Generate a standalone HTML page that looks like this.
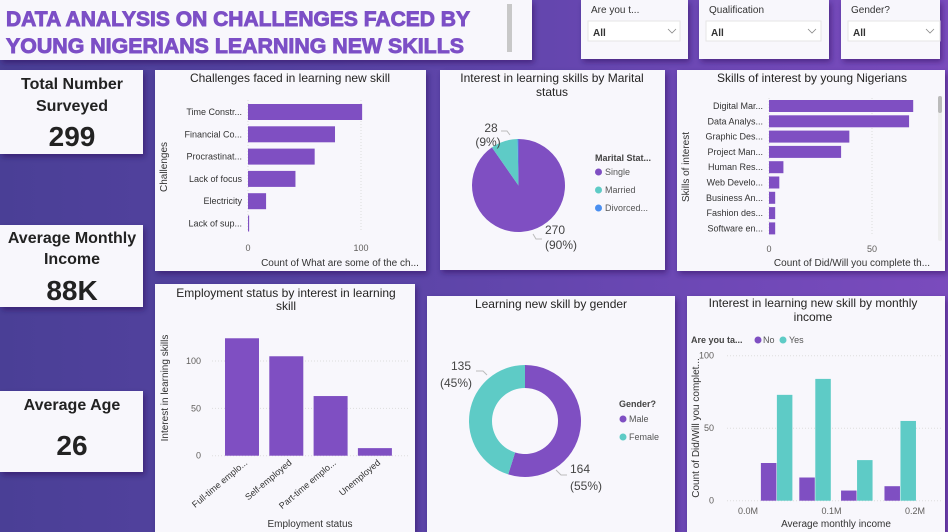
<!DOCTYPE html>
<html><head><meta charset="utf-8">
<style>
html,body{margin:0;padding:0;width:948px;height:532px;overflow:hidden;font-family:"Liberation Sans",sans-serif;}
body{background:linear-gradient(90deg,#4a3f96 0%,#5a44a6 40%,#6e48b6 75%,#7a4bbd 100%);}
svg text{font-family:"Liberation Sans",sans-serif;}
</style></head>
<body>
<svg id="dash" width="948" height="532" viewBox="0 0 948 532" xmlns="http://www.w3.org/2000/svg">
<defs>
<filter id="sh" x="-10%" y="-10%" width="130%" height="130%"><feDropShadow dx="2" dy="3" stdDeviation="3" flood-color="#20104a" flood-opacity="0.45"/></filter>
</defs>
<g>
<rect x="0" y="0" width="532" height="60" fill="#f8f7fc" filter="url(#sh)"/>
<rect x="507" y="4" width="5" height="48" fill="#c8c8c8"/>
<text x="6" y="26" font-size="21" font-weight="900" fill="#7c4fc6" stroke="#7c4fc6" stroke-width="0.9" textLength="464" lengthAdjust="spacingAndGlyphs">DATA ANALYSIS ON CHALLENGES FACED BY</text>
<text x="6" y="53" font-size="21" font-weight="900" fill="#7c4fc6" stroke="#7c4fc6" stroke-width="0.9" textLength="458" lengthAdjust="spacingAndGlyphs">YOUNG NIGERIANS LEARNING NEW SKILLS</text>
</g>
<g>
<rect x="581" y="0" width="107" height="59" fill="#f8f7fc" filter="url(#sh)"/>
<text x="591" y="13" font-size="10" fill="#333">Are you t...</text>
<rect x="588" y="21" width="92" height="20" fill="#fff" stroke="#e6e6e6"/>
<text x="593" y="36" font-size="10" font-weight="bold" fill="#333">All</text>
<path d="M668 29 l4 4 l4 -4" fill="none" stroke="#888" stroke-width="0.8"/>
</g>
<g>
<rect x="699" y="0" width="130" height="59" fill="#f8f7fc" filter="url(#sh)"/>
<text x="709" y="13" font-size="10" fill="#333">Qualification</text>
<rect x="706" y="21" width="115" height="20" fill="#fff" stroke="#e6e6e6"/>
<text x="711" y="36" font-size="10" font-weight="bold" fill="#333">All</text>
<path d="M808 29 l4 4 l4 -4" fill="none" stroke="#888" stroke-width="0.8"/>
</g>
<g>
<rect x="841" y="0" width="99" height="59" fill="#f8f7fc" filter="url(#sh)"/>
<text x="851" y="13" font-size="10" fill="#333">Gender?</text>
<rect x="848" y="21" width="92" height="20" fill="#fff" stroke="#e6e6e6"/>
<text x="853" y="36" font-size="10" font-weight="bold" fill="#333">All</text>
<path d="M926 29 l4 4 l4 -4" fill="none" stroke="#888" stroke-width="0.8"/>
</g>
<g>
<rect x="0" y="70" width="143" height="84" fill="#f8f7fc" filter="url(#sh)"/>
<text x="72" y="89" font-size="16" font-weight="bold" fill="#222" text-anchor="middle">Total Number</text>
<text x="72" y="111" font-size="16" font-weight="bold" fill="#222" text-anchor="middle">Surveyed</text>
<text x="72" y="146" font-size="28" font-weight="bold" fill="#222" text-anchor="middle">299</text>
</g>
<g>
<rect x="0" y="225" width="143" height="82" fill="#f8f7fc" filter="url(#sh)"/>
<text x="72" y="243" font-size="16" font-weight="bold" fill="#222" text-anchor="middle">Average Monthly</text>
<text x="72" y="264" font-size="16" font-weight="bold" fill="#222" text-anchor="middle">Income</text>
<text x="72" y="300" font-size="28" font-weight="bold" fill="#222" text-anchor="middle">88K</text>
</g>
<g>
<rect x="0" y="391" width="143" height="81" fill="#f8f7fc" filter="url(#sh)"/>
<text x="72" y="410" font-size="16" font-weight="bold" fill="#222" text-anchor="middle">Average Age</text>
<text x="72" y="455" font-size="28" font-weight="bold" fill="#222" text-anchor="middle">26</text>
</g>
<rect x="155" y="70" width="271" height="201" fill="#f8f7fc" filter="url(#sh)"/>
<rect x="440" y="70" width="225" height="200" fill="#f8f7fc" filter="url(#sh)"/>
<rect x="677" y="70" width="268" height="201" fill="#f8f7fc" filter="url(#sh)"/>
<rect x="155" y="284" width="260" height="248" fill="#f8f7fc" filter="url(#sh)"/>
<rect x="427" y="296" width="248" height="236" fill="#f8f7fc" filter="url(#sh)"/>
<rect x="687" y="296" width="258" height="236" fill="#f8f7fc" filter="url(#sh)"/>
<g id="charts"></g>
</svg>
<script>
const challengeCats = ["Time Constr...","Financial Co...","Procrastinat...","Lack of focus","Electricity","Lack of sup..."];
const challengeVals = [101,77,59,42,16,1];
const challengeTicks = [0,100];
const skillCats = ["Digital Mar...","Data Analys...","Graphic Des...","Project Man...","Human Res...","Web Develo...","Business An...","Fashion des...","Software en..."];
const skillVals = [70,68,39,35,7,5,3,3,3];
const skillTicks = [0,50];
const maritalCats = ["Single","Married","Divorced..."];
const maritalVals = [270,28,1];
const genderCats = ["Male","Female"];
const genderVals = [164,135];
const employCats = ["Full-time emplo...","Self-employed","Part-time emplo...","Unemployed"];
const employVals = [124,105,63,8];
const employTicks = [0,50,100];
const incomeBins = [0.034,0.08,0.13,0.182];
const incomeNo = [26,16,7,10];
const incomeYes = [73,84,28,55];
const incomeYTicks = [0,50,100];
const incomeXTicks = [0,0.1,0.2];
const incomeXLabels = ["0.0M","0.1M","0.2M"];

const NS="http://www.w3.org/2000/svg";
const root=document.getElementById('charts');
const PUR="#7f4fc2", TEAL="#5ecbc6", BLUE="#4a8ff0";
function el(tag,attrs,txt){const e=document.createElementNS(NS,tag);for(const k in attrs)e.setAttribute(k,attrs[k]);if(txt!==undefined)e.textContent=txt;root.appendChild(e);return e;}
function txt(x,y,s,size,fill,anchor,extra){const a={x:x,y:y,'font-size':size,fill:fill||'#333','text-anchor':anchor||'start'};if(extra)Object.assign(a,extra);return el('text',a,s);}

(function(){
  const x0=248, px=1.13, y0=112, step=22.3, bh=16;
  const sx=v=>x0+v*px;
  let t=txt(290,82,"Challenges faced in learning new skill",12,'#252423','middle');
  
  
  challengeTicks.forEach(v=>{
    let g=el('line',{x1:sx(v),x2:sx(v),y1:100,y2:232,stroke:'#ddd','stroke-dasharray':'1,2'});
    
    
    let l=txt(sx(v),251,String(v),9,'#605e5c','middle');
    
    
  });
  challengeCats.forEach((c,i)=>{
    const cy=y0+i*step;
    let r=el('rect',{x:x0,y:cy-bh/2,width:Math.max(1,challengeVals[i]*px),height:bh,fill:PUR});
    
    
    let l=txt(242,cy+3,c,9,'#333','end');
    
    
  });
  let xa=txt(340,266,"Count of What are some of the ch...",10,'#333','middle');
  
  
  let ya=txt(0,0,"Challenges",10,'#333','middle',{transform:'translate(167,167) rotate(-90)'});
  
  
})();

(function(){
  const x0=769, px=2.06, y0=106, step=15.3, bh=12;
  const sx=v=>x0+v*px;
  let t=txt(812,82,"Skills of interest by young Nigerians",12,'#252423','middle');
  
  
  skillTicks.forEach(v=>{
    let g=el('line',{x1:sx(v),x2:sx(v),y1:98,y2:236,stroke:'#ddd','stroke-dasharray':'1,2'});
    
    
    let l=txt(sx(v),252,String(v),9,'#605e5c','middle');
    
    
  });
  skillCats.forEach((c,i)=>{
    const cy=y0+i*step;
    let r=el('rect',{x:x0,y:cy-bh/2,width:skillVals[i]*px,height:bh,fill:PUR});
    
    
    let l=txt(763,cy+3,c,9,'#333','end');
    
    
  });
  let sb=el('rect',{x:938,y:96,width:4,height:145,fill:'#eee',rx:2});
  
  
  let sb2=el('rect',{x:938,y:96,width:4,height:17,fill:'#bbb',rx:2});
  
  
  let xa=txt(852,266,"Count of Did/Will you complete th...",10,'#333','middle');
  
  
  let ya=txt(0,0,"Skills of interest",10,'#333','middle',{transform:'translate(689,167) rotate(-90)'});
  
  
})();

function arcPath(cx,cy,ro,ri,a0,a1){
  const p=(r,a)=>[cx+r*Math.sin(a),cy-r*Math.cos(a)];
  const large=(a1-a0)>Math.PI?1:0;
  const [x1,y1]=p(ro,a0),[x2,y2]=p(ro,a1);
  if(ri<=0) return `M${cx},${cy} L${x1},${y1} A${ro},${ro} 0 ${large} 1 ${x2},${y2} Z`;
  const [x3,y3]=p(ri,a1),[x4,y4]=p(ri,a0);
  return `M${x1},${y1} A${ro},${ro} 0 ${large} 1 ${x2},${y2} L${x3},${y3} A${ri},${ri} 0 ${large} 0 ${x4},${y4} Z`;
}

(function(){
  let t=txt(552,82,"Interest in learning skills by Marital",12,'#252423','middle');
  
  
  let t2=txt(552,96,"status",12,'#252423','middle');
  
  
  const cx=518.5, cy=185.5, r=46.5, cols=[PUR,TEAL,BLUE];
  const tot=maritalVals.reduce((a,b)=>a+b,0);
  let a=0;
  maritalVals.forEach((v,i)=>{
    const a1=a+v/tot*2*Math.PI;
    let p=el('path',{d:arcPath(cx,cy,r,0,a,a1),fill:cols[i]});
    
    
    a=a1;
  });
  el('path',{d:'M533,234 l3,5 h6',fill:'none',stroke:'#bbb'});
  el('path',{d:'M510,135 l-3,-4 h-6',fill:'none',stroke:'#bbb'});
  const pct=v=>Math.round(v/tot*100)+'%';
  let l1=txt(545,234,String(maritalVals[0]),12,'#444','start');
  
  
  let l1b=txt(545,249,'('+pct(maritalVals[0])+')',12,'#444','start');
  
  
  let l2=txt(491,132,String(maritalVals[1]),12,'#444','middle');
  
  
  let l2b=txt(488,146,'('+pct(maritalVals[1])+')',12,'#444','middle');
  
  
  let lt=txt(595,161,"Marital Stat...",9,'#444','start',{'font-weight':'bold'});
  
  
  maritalCats.forEach((c,i)=>{
    const y=175+i*18;
    let d=el('circle',{cx:598.5,cy:y-3,r:3.5,fill:cols[i]});
    
    
    let l=txt(605,y,c,9,'#555','start');
    
    
  });
})();

(function(){
  let t=txt(551,308,"Learning new skill by gender",12,'#252423','middle');
  
  
  const cx=525, cy=421, ro=56, ri=33, cols=[PUR,TEAL];
  const tot=genderVals.reduce((a,b)=>a+b,0);
  let a=0;
  genderVals.forEach((v,i)=>{
    const a1=a+v/tot*2*Math.PI;
    let p=el('path',{d:arcPath(cx,cy,ro,ri,a,a1),fill:cols[i]});
    
    
    a=a1;
  });
  el('path',{d:'M556,470 l5,5 h6',fill:'none',stroke:'#bbb'});
  el('path',{d:'M487,375 l-4,-4 h-7',fill:'none',stroke:'#bbb'});
  const pct=v=>Math.round(v/tot*100)+'%';
  let l1=txt(570,473,String(genderVals[0]),12,'#444','start');
  
  
  let l1b=txt(570,490,'('+pct(genderVals[0])+')',12,'#444','start');
  
  
  let l2=txt(461,370,String(genderVals[1]),12,'#444','middle');
  
  
  let l2b=txt(456,387,'('+pct(genderVals[1])+')',12,'#444','middle');
  
  
  let lt=txt(619,407,"Gender?",9,'#444','start',{'font-weight':'bold'});
  
  
  genderCats.forEach((c,i)=>{
    const y=422+i*18;
    let d=el('circle',{cx:623,cy:y-3,r:3.5,fill:cols[i]});
    
    
    let l=txt(629,y,c,9,'#555','start');
    
    
  });
})();

(function(){
  let t=txt(286,297,"Employment status by interest in learning",12,'#252423','middle');
  
  
  let t2=txt(286,310,"skill",12,'#252423','middle');
  
  
  const y0=455.7, py=0.947, xL=220, step=44.3, bw=34;
  const sy=v=>y0-v*py;
  employTicks.forEach(v=>{
    let g=el('line',{x1:212,x2:408,y1:sy(v),y2:sy(v),stroke:'#ddd','stroke-dasharray':'1,2'});
    
    
    let l=txt(201,sy(v)+3,String(v),9,'#605e5c','end');
    
    
  });
  employCats.forEach((c,i)=>{
    const x=xL+5+i*step;
    let r=el('rect',{x:x,y:sy(employVals[i]),width:bw,height:employVals[i]*py,fill:PUR});
    
    
    let l=txt(0,0,c,9,'#333','end',{transform:`translate(${x+bw/2+6},${y0+8}) rotate(-40)`});
    
    
  });
  let xa=txt(310,527,"Employment status",10,'#333','middle');
  
  
  let ya=txt(0,0,"Interest in learning skills",10,'#333','middle',{transform:'translate(168,388) rotate(-90)'});
  
  
})();

(function(){
  let t=txt(813,307,"Interest in learning new skill by monthly",12,'#252423','middle');
  
  
  let t2=txt(813,321,"income",12,'#252423','middle');
  
  
  let lt=txt(691,343,"Are you ta...",9,'#444','start',{'font-weight':'bold'});
  
  
  let d1=el('circle',{cx:758,cy:340,r:3.5,fill:PUR});
  
  
  let e1=txt(763,343,"No",9,'#555');
  
  
  let d2=el('circle',{cx:783,cy:340,r:3.5,fill:TEAL});
  
  
  let e2=txt(789,343,"Yes",9,'#555');
  
  
  const y0=500.7, py=1.45, x0=748, pxM=835, bw=15.5;
  const sy=v=>y0-v*py, sx=m=>x0+m*pxM;
  incomeYTicks.forEach(v=>{
    let g=el('line',{x1:727,x2:942,y1:sy(v),y2:sy(v),stroke:'#ddd','stroke-dasharray':'1,2'});
    
    
    let l=txt(714,sy(v)+3,String(v),9,'#605e5c','end');
    
    
  });
  incomeXTicks.forEach((m,i)=>{
    let l=txt(sx(m),514,incomeXLabels[i],9,'#605e5c','middle');
    
    
  });
  incomeBins.forEach((m,i)=>{
    const c=sx(m);
    let r1=el('rect',{x:c-bw,y:sy(incomeNo[i]),width:bw,height:incomeNo[i]*py,fill:PUR});
    
    
    let r2=el('rect',{x:c+0.5,y:sy(incomeYes[i]),width:bw,height:incomeYes[i]*py,fill:TEAL});
    
    
  });
  let xa=txt(836,527,"Average monthly income",10,'#333','middle');
  
  
  let ya=txt(0,0,"Count of Did/Will you complet...",10,'#333','middle',{transform:'translate(699,428) rotate(-90)'});
  
  
})();
</script>
</body></html>
